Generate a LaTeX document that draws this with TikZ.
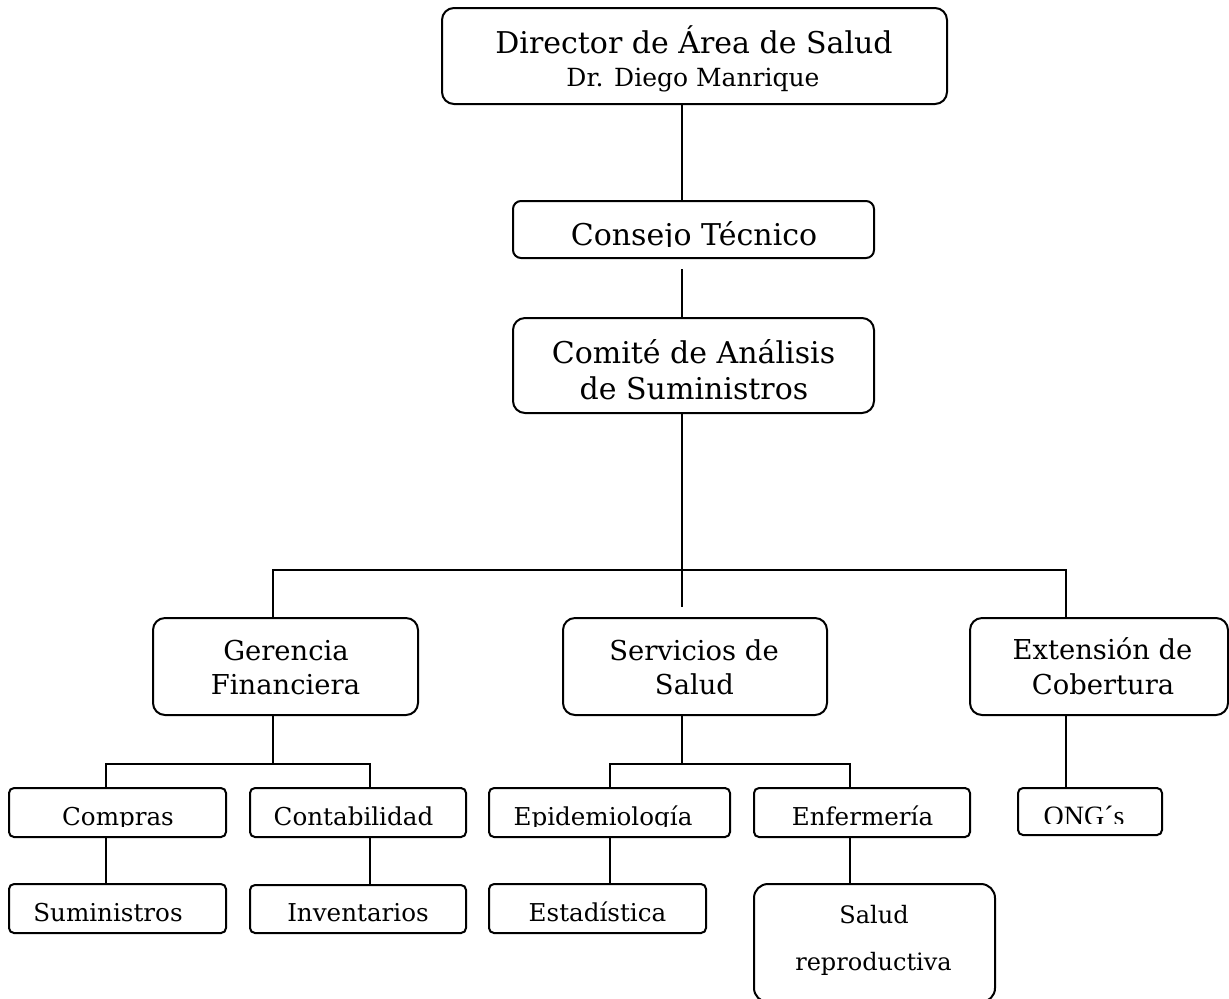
\documentclass[tikz,border=0pt]{standalone}
\usepackage{fontspec}
\setmainfont{DejaVu Serif}
\newfontfamily\ongfont{Liberation Serif}
\usetikzlibrary{positioning}
\tikzset{
  unit/.style    = {draw=black, line width=1pt, rounded corners=6pt, inner sep=0pt, outer sep=0pt},
  unitsm/.style  = {draw=black, line width=1pt, rounded corners=2.5pt, inner sep=0pt, outer sep=0pt},
  link/.style    = {draw=black, line width=1pt},
  big/.style     = {font=\fontsize{15}{18}\selectfont, anchor=base, inner sep=0pt, outer sep=0pt},
  who/.style     = {font=\fontsize{12.5}{15}\selectfont, anchor=base, inner sep=0pt, outer sep=0pt},
  mid/.style     = {font=\fontsize{13.7}{17}\selectfont, anchor=base, inner sep=0pt, outer sep=0pt},
  small/.style   = {font=\fontsize{12.3}{15}\selectfont, anchor=base, inner sep=0pt, outer sep=0pt},
}

\begin{document}
\begin{tikzpicture}[x=0.5pt,y=-0.5pt]
\path[use as bounding box] (0,0) rectangle (1229,998);

% ---- top of the chart ---------------------------------------------------
\node[unit, minimum width=252.5pt, minimum height=48pt] (dir) at (694.5,56) {};
\node[big] (dirname) at (694,53) {Director de Área de Salud};
\node[who] (dirwho) at (693,86) {Dr. Diego Manrique};

\node[unit, rounded corners=4pt, minimum width=180.5pt, minimum height=28.5pt] (cons) at (693.5,229.5) {};
\begin{scope}
  \clip (cons.north west) rectangle ([yshift=6pt]cons.south east);
  \node[big] (constxt) at (694,245) {Consejo Técnico};
\end{scope}

\node[unit, minimum width=180.5pt, minimum height=47.5pt] (comite) at (693.5,365.5) {};
\node[big] (comitei) at (693.5,363) {Comité de Análisis};
\node[big] (comiteii) at (694,399) {de Suministros};

% ---- second row ---------------------------------------------------------
\node[unit, minimum width=132.5pt, minimum height=48.5pt] (ger) at (285.5,666.5) {};
\node[mid] (geri) at (286,660) {Gerencia};
\node[mid] (gerii) at (285.5,694) {Financiera};

\node[unit, minimum width=132pt, minimum height=48.5pt] (serv) at (695,666.5) {};
\node[mid] (servi) at (694,660) {Servicios de};
\node[mid] (servii) at (694.5,694) {Salud};

\node[unit, minimum width=129pt, minimum height=48.5pt] (ext) at (1099,666.5) {};
\node[mid] (exti) at (1102.5,659) {Extensión de};
\node[mid] (extii) at (1103,694) {Cobertura};

% ---- small units --------------------------------------------------------
\node[unitsm, minimum width=108.5pt, minimum height=24.5pt] (compras) at (117.5,812.5) {};
\node[unitsm, minimum width=108pt,   minimum height=24.5pt] (conta)   at (358,812.5) {};
\node[unitsm, minimum width=120.5pt, minimum height=24.5pt] (epi)     at (609.5,812.5) {};
\node[unitsm, minimum width=108pt,   minimum height=24.5pt] (enf)     at (862,812.5) {};
\node[unitsm, minimum width=72pt,    minimum height=23.5pt] (ong)     at (1090,811.5) {};
\node[unitsm, minimum width=108.5pt, minimum height=24.5pt] (sumi)    at (117.5,908.5) {};
\node[unitsm, minimum width=108pt,   minimum height=24pt]   (inv)     at (358,909) {};
\node[unitsm, minimum width=108.5pt, minimum height=24.5pt] (est)     at (597.5,908.5) {};
\node[unit, rounded corners=7pt, minimum width=120.5pt, minimum height=59pt] (salud) at (874.5,943) {};

% labels sit low in their boxes, cut at the line
\foreach \n/\x/\y/\c/\t in {compras/118/825/5.5pt/Compras, conta/353.5/825/5.5pt/Contabilidad,
    epi/603/825/5.5pt/Epidemiología, enf/862.5/825/5.5pt/Enfermería,
    sumi/108/921/6pt/Suministros, inv/358/921.5/5.5pt/Inventarios, est/597.5/921.5/5.5pt/Estadística}{
  \begin{scope}
    \clip (\n.north west) rectangle ([yshift=\c]\n.south east);
    \node[small] (\n txt) at (\x,\y) {\t};
  \end{scope}
}
\begin{scope}
  \clip (ong.north west) rectangle ([yshift=6pt]ong.south east);
  \node[small, font=\fontsize{14}{16}\ongfont] (ongtxt) at (1084,825) {ONG´s};
\end{scope}

\node[small, font=\fontsize{12}{15}\selectfont] (saludi) at (874,923) {Salud};
\node[small, font=\fontsize{12}{15}\selectfont] (saludii) at (873.5,970) {reproductiva};

% ---- lines --------------------------------------------------------------
\coordinate (spine) at (682,0);
\coordinate (gap) at (682,269);
\coordinate (busend) at (682,607);
\coordinate (busL) at (273,570);
\coordinate (busR) at (1066,570);
\coordinate (gerfork) at (273,764);
\coordinate (cx) at (106,764);
\coordinate (kx) at (370,764);
\coordinate (servfork) at (682,764);
\coordinate (ex) at (610,764);
\coordinate (fx) at (850,764);

\draw[link] (spine |- dir.south) -- (spine |- cons.north);
\draw[link] (gap) -- (spine |- comite.north);
\draw[link] (spine |- comite.south) -- (busend);
\draw[link] (busL |- ger.north) -- (busL) -- (busR) -- (busR |- ext.north);

\draw[link] (gerfork |- ger.south) -- (gerfork);
\draw[link] (cx |- compras.north) -- (cx) -- (kx) -- (kx |- conta.north);
\draw[link] (cx |- compras.south) -- (cx |- sumi.north);
\draw[link] (kx |- conta.south) -- (kx |- inv.north);

\draw[link] (servfork |- serv.south) -- (servfork);
\draw[link] (ex |- epi.north) -- (ex) -- (fx) -- (fx |- enf.north);
\draw[link] (ex |- epi.south) -- (ex |- est.north);
\draw[link] (fx |- enf.south) -- (fx |- salud.north);

\draw[link] (busR |- ext.south) -- (busR |- ong.north);

\end{tikzpicture}
\end{document}
